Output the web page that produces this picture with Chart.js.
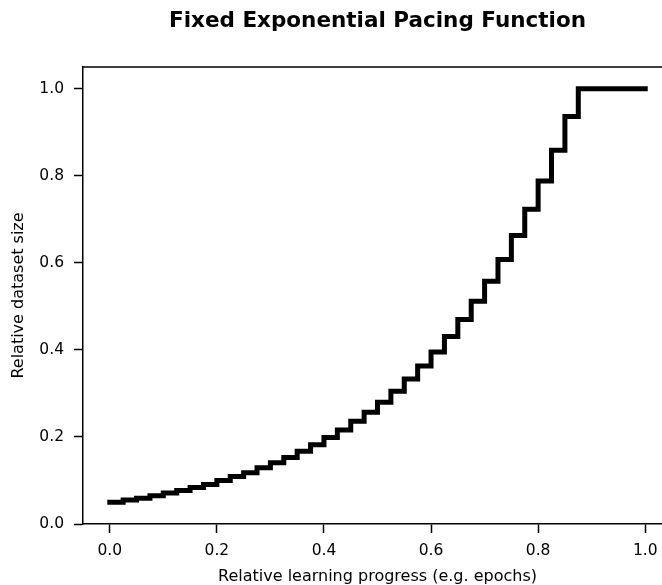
<!doctype html>
<html lang="en">
  <head>
    <meta charset="utf-8">
    <title>Fixed Exponential Pacing Function</title>
    <style>
      * {
        margin: 0;
        padding: 0;
      }
      body {
        width: 662px;
        height: 585px;
        overflow: hidden;
        background: white;
      }
      .chartBox {
        width: 700px;
        height: 585px;
      }
    </style>
  </head>
  <body>
    <div class="chartBox">
      <canvas id="myChart" width="700" height="585"></canvas>
    </div>
    <script src="https://cdn.jsdelivr.net/npm/chart.js"></script>
    <script>
    // setup
    const progress = [0, 0.025, 0.05, 0.075, 0.1, 0.125, 0.15, 0.175, 0.2, 0.225,
      0.25, 0.275, 0.3, 0.325, 0.35, 0.375, 0.4, 0.425, 0.45, 0.475,
      0.5, 0.525, 0.55, 0.575, 0.6, 0.625, 0.65, 0.675, 0.7, 0.725,
      0.75, 0.775, 0.8, 0.825, 0.85, 0.875, 1.0];
    const datasetSize = [0.050, 0.055, 0.059, 0.065, 0.071, 0.077, 0.084, 0.091, 0.100, 0.109,
      0.118, 0.129, 0.141, 0.153, 0.167, 0.182, 0.199, 0.216, 0.236, 0.257,
      0.280, 0.305, 0.333, 0.363, 0.395, 0.431, 0.470, 0.512, 0.558, 0.608,
      0.663, 0.723, 0.788, 0.859, 0.936, 1.0, 1.0];
    const xTicks = [0, 0.2, 0.4, 0.6, 0.8, 1.0];
    const yTicks = [0, 0.2, 0.4, 0.6, 0.8, 1.0];

    const tickFont = { family: 'DejaVu Sans', size: 15.5 };
    const labelFont = { family: 'DejaVu Sans', size: 16 };

    const data = {
      datasets: [{
        label: 'Pacing',
        data: progress.map((x, i) => ({ x: x, y: datasetSize[i] })),
        borderColor: '#000',
        borderWidth: 5,
        borderCapStyle: 'square',
        borderJoinStyle: 'miter',
        stepped: 'before',
        pointRadius: 0,
        fill: false
      }]
    };

    // top spine
    const topSpine = {
      id: 'topSpine',
      afterDraw(chart) {
        const { ctx, chartArea } = chart;
        ctx.save();
        ctx.strokeStyle = '#000';
        ctx.lineWidth = 1.5;
        ctx.beginPath();
        ctx.moveTo(chartArea.left - 0.75, chartArea.top);
        ctx.lineTo(chartArea.right, chartArea.top);
        ctx.stroke();
        ctx.restore();
      }
    };

    // config
    const config = {
      type: 'line',
      data,
      options: {
        responsive: false,
        animation: false,
        layout: { padding: { left: 0, right: 28, top: 0, bottom: 0 } },
        plugins: {
          legend: { display: false },
          tooltip: { enabled: false },
          title: {
            display: true,
            text: 'Fixed Exponential Pacing Function',
            fullSize: false,
            color: '#000',
            font: { family: 'DejaVu Sans', size: 21.5, weight: 'bold' },
            padding: { top: 9, bottom: 32.2 }
          }
        },
        scales: {
          x: {
            type: 'linear',
            min: -0.05,
            max: 1.05,
            afterBuildTicks: (scale) => { scale.ticks = xTicks.map(v => ({ value: v })); },
            afterFit: (scale) => { scale.height = 61; },
            grid: { drawOnChartArea: false, drawTicks: true, tickLength: 9, tickWidth: 1.5, tickColor: '#000' },
            border: { display: true, color: '#000', width: 1.5 },
            ticks: {
              color: '#000',
              font: tickFont,
              padding: 9,
              maxRotation: 0,
              callback: (v) => v.toFixed(1)
            },
            title: {
              display: true,
              text: 'Relative learning progress (e.g. epochs)',
              color: '#000',
              font: labelFont,
              padding: { top: 0, bottom: -1 }
            }
          },
          y: {
            min: 0,
            max: 1.05,
            afterBuildTicks: (scale) => { scale.ticks = yTicks.map(v => ({ value: v })); },
            afterFit: (scale) => { scale.width = 83; },
            grid: { drawOnChartArea: false, drawTicks: true, tickLength: 9, tickWidth: 1.5, tickColor: '#000' },
            border: { display: true, color: '#000', width: 1.5 },
            ticks: {
              color: '#000',
              font: tickFont,
              padding: 10,
              callback: (v) => v.toFixed(1)
            },
            title: {
              display: true,
              text: 'Relative dataset size',
              color: '#000',
              font: labelFont,
              padding: { top: 9, bottom: 0 }
            }
          }
        }
      },
      plugins: [topSpine]
    };

    // render init block
    const myChart = new Chart(
      document.getElementById('myChart'),
      config
    );
    </script>
  </body>
</html>
